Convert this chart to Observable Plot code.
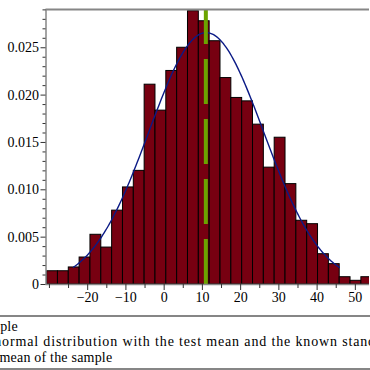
<!DOCTYPE html>
<html>
<head>
<meta charset="utf-8">
<script src="https://cdn.jsdelivr.net/npm/d3@7"></script>
<script src="https://cdn.jsdelivr.net/npm/@observablehq/plot@0.6"></script>
<style>
  html, body { margin: 0; padding: 0; background: #fff; width: 370px; height: 370px; overflow: hidden; position: relative; }
  #chart svg { display: block; }
  .legend { position: absolute; left: 0; top: 315px; width: 370px; height: 51px; border-top: 2px solid #868686; border-bottom: 2px solid #868686; overflow: hidden; font-family: "Liberation Serif", serif; font-size: 14px; color: #000; }
  .legend div { position: absolute; white-space: nowrap; line-height: 15.5px; }
</style>
</head>
<body>
<div id="chart"></div>
<div class="legend">
  <div id="l1" style="left:-23px; top:1.5px; letter-spacing:0.2px;">sample</div>
  <div id="l2" style="left:-5.8px; top:16.5px; letter-spacing:0.85px;">normal distribution with the test mean and the known standard deviation</div>
  <div id="l3" style="left:-0.5px; top:32.5px; letter-spacing:0.2px;">mean of the sample</div>
</div>
<script>
// Histogram (density) of the sample
const binStart = -30.61;
const binWidth = 2.834;
const density = [
  0.0014, 0.0014, 0.0018, 0.00285, 0.00525, 0.0039, 0.0078, 0.01025, 0.0120, 0.0211,
  0.01836, 0.02255, 0.0250, 0.02886, 0.0278, 0.02569, 0.0218, 0.0197, 0.01934, 0.01688,
  0.01234, 0.0155, 0.0106, 0.00673, 0.00637, 0.0032, 0.00215, 0.00077, 0.00039, 0.00077
];
// Normal distribution with the test mean and the known standard deviation
const testMean = 11;
const knownSD = 15;
const curveRange = [-23.7, 45.8];
// Mean of the sample
const sampleMean = 10.9;
// Axes
const xMajorTicks = [-20, -10, 0, 10, 20, 30, 40, 50];
const xMinorTicks = [-30, -25, -15, -5, 5, 15, 25, 35, 45];
const yMajorTicks = [0, 0.005, 0.010, 0.015, 0.020, 0.025];
const yTickLabels = ["0", "0.005", "0.010", "0.015", "0.020", "0.025"];

const xDomain = [-30.9, 53.7];
const yDomain = [0, 0.02904];

const bins = density.map((d, i) => ({x1: binStart + i * binWidth, x2: binStart + (i + 1) * binWidth, y: d}));
const pdf = x => Math.exp(-0.5 * ((x - testMean) / knownSD) ** 2) / (knownSD * Math.sqrt(2 * Math.PI));
const curve = d3.range(0, 201).map(i => {
  const x = curveRange[0] + (curveRange[1] - curveRange[0]) * i / 200;
  return {x, y: pdf(x)};
});
const yMinorTicks = d3.range(1, 30).map(i => i / 1000).filter(v => Math.round(v * 1000) % 5 !== 0);

const chart = Plot.plot({
  width: 370,
  height: 310,
  marginTop: 9,
  marginBottom: 26,
  marginLeft: 45.5,
  marginRight: 1,
  style: {fontFamily: "'Liberation Serif', serif", fontSize: "14px", color: "#000", background: "#fff", overflow: "visible"},
  x: {domain: xDomain},
  y: {domain: yDomain},
  marks: [
    Plot.rect(bins, {x1: "x1", x2: "x2", y1: 0, y2: "y", fill: "#770011", stroke: "#000", strokeWidth: 1, clip: true}),
    Plot.line(curve, {x: "x", y: "y", stroke: "#0b1a86", strokeWidth: 1.4, clip: true}),
    Plot.ruleX([sampleMean], {y1: 0, y2: yDomain[1], stroke: "#6ba400", strokeWidth: 4, strokeDasharray: "45,15"}),
    Plot.ruleY([yDomain[1]], {stroke: "#868686", strokeWidth: 2}),
    Plot.ruleX([xDomain[0]], {stroke: "#868686", strokeWidth: 1.5}),
    Plot.ruleY([0], {stroke: "#868686", strokeWidth: 1.5}),
    Plot.axisY({ticks: yMajorTicks, tickSize: 5, tickPadding: 2, tickFormat: d => yTickLabels[yMajorTicks.indexOf(d)], label: null, stroke: "#333"}),
    Plot.axisY({ticks: yMinorTicks, tickSize: 3, tickFormat: () => "", label: null, stroke: "#333"}),
    Plot.axisX({ticks: xMajorTicks, tickSize: 6, tickPadding: 2, label: null, stroke: "#333"}),
    Plot.axisX({ticks: xMinorTicks, tickSize: 4, tickFormat: () => "", label: null, stroke: "#333"})
  ]
});
document.getElementById("chart").appendChild(chart);
</script>
</body>
</html>
